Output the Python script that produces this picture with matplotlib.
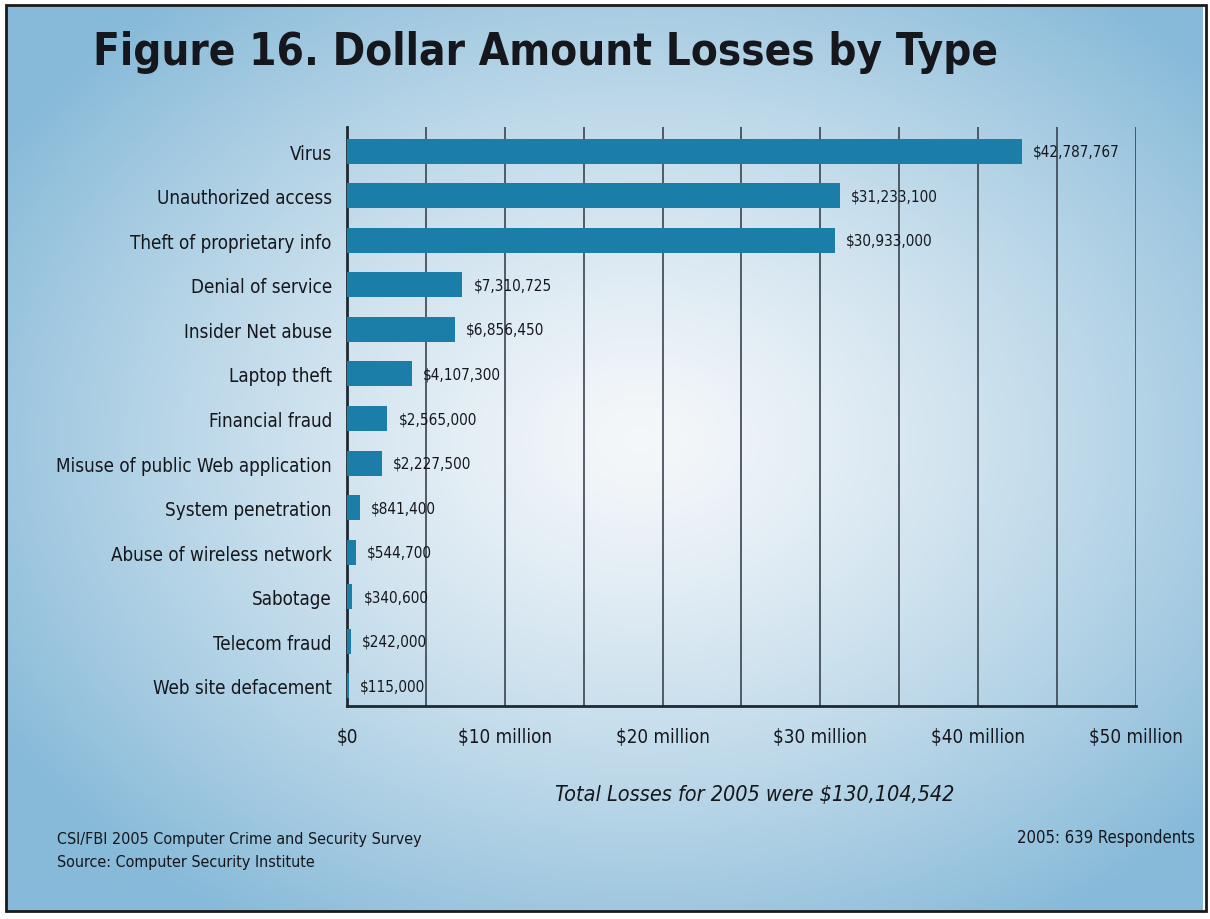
import numpy as np
import matplotlib.pyplot as plt
from matplotlib.patches import Rectangle
from matplotlib.ticker import FuncFormatter

# DejaVu Sans Condensed is the closest narrow face available
plt.rcParams['font.family'] = ['DejaVu Sans']
plt.rcParams['font.stretch'] = 'condensed'

categories = ['Virus', 'Unauthorized access', 'Theft of proprietary info', 'Denial of service',
              'Insider Net abuse', 'Laptop theft', 'Financial fraud',
              'Misuse of public Web application', 'System penetration',
              'Abuse of wireless network', 'Sabotage', 'Telecom fraud', 'Web site defacement']
losses = [42787767, 31233100, 30933000, 7310725, 6856450, 4107300, 2565000,
          2227500, 841400, 544700, 340600, 242000, 115000]
tick_values = [0, 10e6, 20e6, 30e6, 40e6, 50e6]
total_text = 'Total Losses for 2005 were $130,104,542'

fig = plt.figure(figsize=(12.1, 9.2), dpi=100)

# radial gradient background
bg = fig.add_axes([0, 0, 1, 1])
gx, gy = np.meshgrid(np.linspace(0, 1, 400), np.linspace(0, 1, 300))
r = np.sqrt(((gx - 0.53) / 0.62) ** 2 + ((gy - 0.52) / 0.62) ** 2)
r = np.clip(r, 0, 1)
c_in = np.array([0.96, 0.97, 0.98])
c_out = np.array([0.53, 0.73, 0.85])
img = c_in[None, None, :] + (c_out - c_in)[None, None, :] * (r[:, :, None] ** 1.3)
bg.imshow(img, extent=[0, 1, 0, 1], aspect='auto', origin='lower')
bg.set_xlim(0, 1)
bg.set_ylim(0, 1)
bg.axis('off')
bg.add_patch(Rectangle((0, 0), 1, 1, fill=False, edgecolor='white', lw=10))
bg.add_patch(Rectangle((0.005, 0.009), 0.992, 0.985, fill=False, edgecolor='#1a1a1a', lw=2))

ax = fig.add_axes([0.2868, 0.2315, 0.652, 0.6294])
ax.patch.set_alpha(0)
y = np.arange(len(categories))
ax.barh(y, losses, height=0.56, color='#1a7ea9', zorder=3)
ax.set_ylim(12.45, -0.54)
ax.set_xlim(0, 50e6)
for x in np.arange(5e6, 50.1e6, 5e6):
    ax.axvline(x, color='#3a4450', lw=1.2, zorder=1)

for i, v in enumerate(losses):
    ax.text(v + 0.7e6, i, '${:,}'.format(v), va='center', ha='left', fontsize=11,
            color='#15171c', zorder=4)

ax.set_yticks(y)
ax.set_yticklabels(categories, fontsize=13.5, color='#15171c')
ax.set_xticks(tick_values)
ax.xaxis.set_major_formatter(FuncFormatter(lambda v, p: '$0' if v == 0 else '${:.0f} million'.format(v / 1e6)))
ax.tick_params(axis='x', labelsize=13.5, colors='#15171c', length=0, pad=15)
ax.tick_params(axis='y', length=0, pad=11)
for s in ['top', 'right']:
    ax.spines[s].set_visible(False)
for s in ['left', 'bottom']:
    ax.spines[s].set_color('#1e2a33')
    ax.spines[s].set_linewidth(2)

fig.text(0.451, 0.943, 'Figure 16. Dollar Amount Losses by Type', ha='center', va='center',
         fontsize=31.5, fontweight='bold', color='#15171c')
fig.text(0.624, 0.136, total_text, ha='center', va='center', fontsize=15.5,
         style='italic', color='#15171c')
fig.text(0.047, 0.087, 'CSI/FBI 2005 Computer Crime and Security Survey', ha='left', va='center',
         fontsize=11.5, color='#15171c')
fig.text(0.047, 0.062, 'Source: Computer Security Institute', ha='left', va='center',
         fontsize=11.5, color='#15171c')
fig.text(0.988, 0.089, '2005: 639 Respondents', ha='right', va='center',
         fontsize=12, color='#15171c')

fig.savefig('out.png', dpi=100)
